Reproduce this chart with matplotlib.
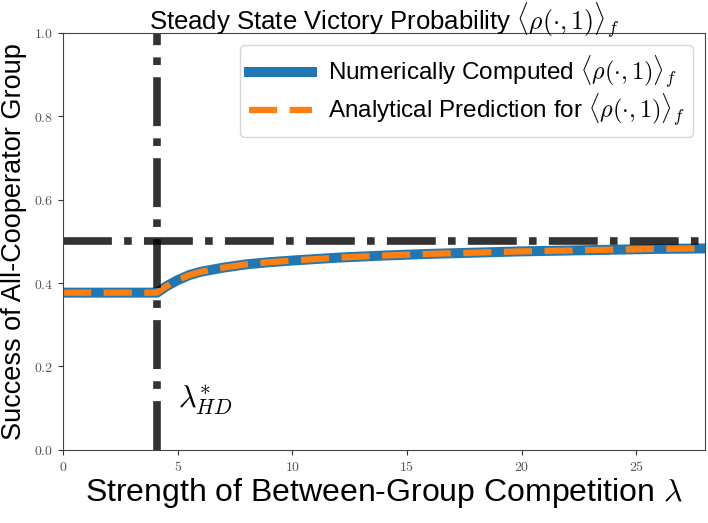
import matplotlib.pyplot as plt
import matplotlib.ticker as mticker

plt.rcParams['font.family'] = ['Liberation Sans', 'DejaVu Sans']
plt.rcParams['mathtext.fontset'] = 'cm'

# values
lam = [0, 1, 2, 3, 4.1, 4.5, 5, 5.5, 6, 7, 8, 9, 10, 12, 14, 16, 18, 20, 22, 24, 26, 28]
rho_num = [0.377, 0.377, 0.377, 0.377, 0.377, 0.392, 0.407, 0.419, 0.427, 0.437, 0.445,
           0.450, 0.454, 0.461, 0.466, 0.470, 0.473, 0.476, 0.478, 0.480, 0.482, 0.483]
rho_ana = [0.377, 0.377, 0.377, 0.377, 0.377, 0.392, 0.407, 0.419, 0.427, 0.437, 0.445,
           0.450, 0.454, 0.461, 0.466, 0.470, 0.473, 0.476, 0.478, 0.480, 0.482, 0.483]
lam_star = 4.1
rho_limit = 0.5

fig = plt.figure(figsize=(7.08, 5.23), dpi=100)
ax = fig.add_axes([0.089, 0.14, 0.907, 0.797])

ax.plot(lam, rho_num, color='#1f77b4', lw=7.2,
        label=r'Numerically Computed $\langle \rho(\cdot,1) \rangle_f$')
ax.plot(lam, rho_ana, color='#ff7f0e', lw=4.5, ls='--', dashes=(4.5, 2),
        label=r'Analytical Prediction for $\langle \rho(\cdot,1) \rangle_f$')
ax.axhline(rho_limit, color='k', alpha=0.8, lw=5.5, ls='-.')
ax.axvline(lam_star, color='k', alpha=0.8, lw=5.5, ls='-.')

ax.text(5.0, 0.10, r'$\lambda^{*}_{HD}$', fontsize=22)

ax.set_xlim(0, 28)
ax.set_ylim(0, 1)
ax.set_xticks([0, 5, 10, 15, 20, 25])
ax.set_yticks([0, 0.2, 0.4, 0.6, 0.8, 1.0])
ax.xaxis.set_major_formatter(mticker.FuncFormatter(lambda v, p: r'$%d$' % v))
ax.yaxis.set_major_formatter(mticker.FuncFormatter(lambda v, p: r'$%.1f$' % v))
ax.tick_params(labelsize=10, colors='#333333', labelcolor='#555555')
for s in ax.spines.values():
    s.set_color('#444444')

ax.set_xlabel(r'Strength of Between-Group Competition $\lambda$', fontsize=23, labelpad=2)
ax.set_ylabel('Success of All-Cooperator Group', fontsize=19.5)
ax.yaxis.set_label_coords(-0.056, 0.5)
# title placed by hand so its math brackets stay inside the picture
ax.text(0.5, 1.0 + 32.5 / 417, r'Steady State Victory Probability $\langle \rho(\cdot,1) \rangle_f$',
        transform=ax.transAxes, ha='center', va='top', fontsize=18.5)

ax.legend(loc='upper right', fontsize=17.5, handlelength=2.6, handletextpad=0.65,
          borderpad=0.35, labelspacing=0.05)

fig.savefig('out.png', dpi=100)
